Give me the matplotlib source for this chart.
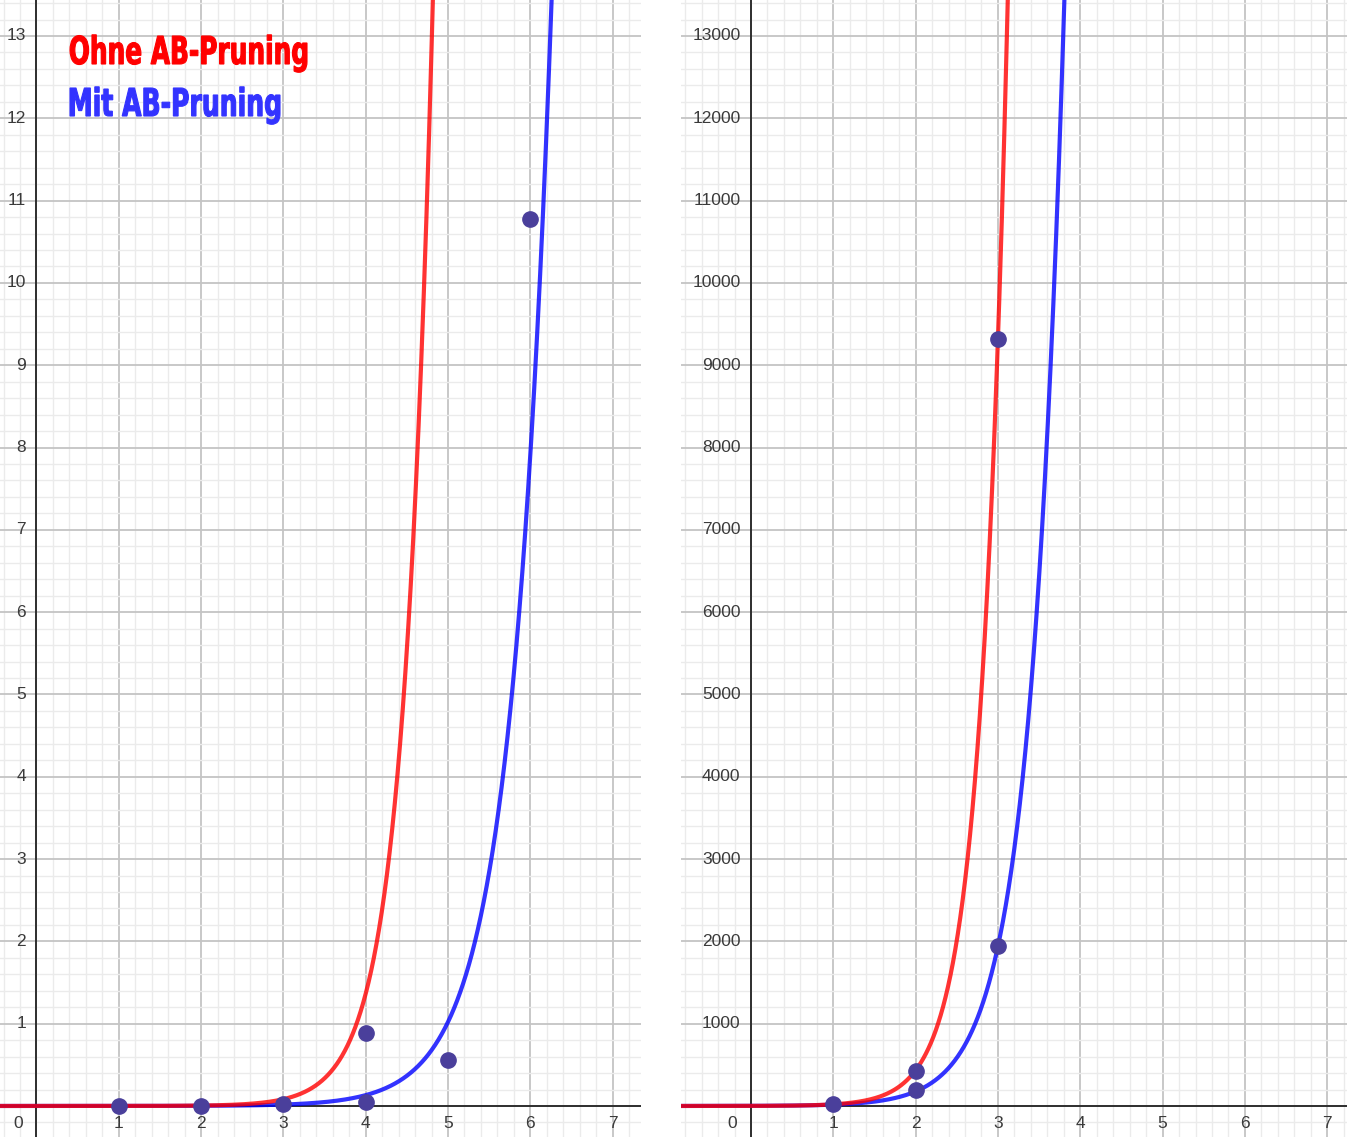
import numpy as np
import matplotlib
matplotlib.use("Agg")
import matplotlib.pyplot as plt
from matplotlib.ticker import MultipleLocator
from matplotlib.textpath import TextPath
from matplotlib.patches import PathPatch
from matplotlib.font_manager import FontProperties
from matplotlib.transforms import Affine2D, IdentityTransform

# ---------------- data ----------------
# left panel (scaled values)
left_pts_x = [1, 2, 3, 4, 4, 5, 6]
left_pts_y = [0.0, 0.0, 0.03, 0.89, 0.05, 0.56, 10.78]
# exponential fits y = a * b**x
left_red_a, left_red_b = 1.84e-5, 16.5
left_blue_a, left_blue_b = 3.65e-5, 7.75

# right panel
right_pts_x = [1, 2, 2, 3, 3]
right_pts_y = [25, 430, 190, 9320, 1940]
right_red_a, right_red_b = 0.938, 21.5
right_blue_a, right_blue_b = 1.458, 11.0

left_xticks = [1, 2, 3, 4, 5, 6, 7]
left_yticks = list(range(1, 14))
right_xticks = [1, 2, 3, 4, 5, 6, 7]
right_yticks = list(range(1000, 14000, 1000))

label_red = "Ohne AB-Pruning"
label_blue = "Mit AB-Pruning"

# ---------------- figure ----------------
W, H = 1347, 1137
fig = plt.figure(figsize=(W / 100, H / 100), dpi=100)
fig.patch.set_facecolor("white")

RED = (1.0, 0.0, 0.0, 0.8)
BLUE = (0.0, 0.0, 1.0, 0.8)
PT = "#4a3f9b"
TXT = "#3a3a3a"
FONT = "Liberation Sans"


def setup(ax, xlim, ylim, xmaj, ymaj, xmin, ymin, xt, yt):
    ax.set_xlim(*xlim)
    ax.set_ylim(*ylim)
    ax.xaxis.set_major_locator(MultipleLocator(xmaj))
    ax.yaxis.set_major_locator(MultipleLocator(ymaj))
    ax.xaxis.set_minor_locator(MultipleLocator(xmin))
    ax.yaxis.set_minor_locator(MultipleLocator(ymin))
    ax.grid(which="major", color="#c4c4c4", linewidth=1.3, zorder=0)
    ax.grid(which="minor", color="#ebebeb", linewidth=1.0, zorder=0)
    ax.tick_params(which="both", length=0, labelbottom=False, labelleft=False)
    for s in ax.spines.values():
        s.set_visible(False)
    ax.set_axisbelow(True)
    ax.axhline(0, color="#222222", linewidth=1.3, zorder=1)
    ax.axvline(0, color="#222222", linewidth=1.3, zorder=1)
    for v in xt:
        ax.annotate(str(v), (v, 0), xytext=(0, -12.5), textcoords="offset points",
                    ha="center", va="center", fontsize=12.5, color=TXT,
                    family=FONT, zorder=2)
    for v in yt:
        ax.annotate(str(v), (0, v), xytext=(-7.5, 0), textcoords="offset points",
                    ha="right", va="center", fontsize=12.5, color=TXT,
                    family=FONT, zorder=2)
    ax.annotate("0", (0, 0), xytext=(-10, -12.5), textcoords="offset points",
                ha="right", va="center", fontsize=12.5, color=TXT,
                family=FONT, zorder=2)


def condensed_label(text, color, x_left, x_right, baseline_top, cap_px):
    """Heavy condensed text drawn as a path in pixel coordinates."""
    fp = FontProperties(family="DejaVu Sans", weight="bold")
    tp = TextPath((0, 0), text, size=1, prop=fp)
    ext = tp.get_extents()
    cap = TextPath((0, 0), "H", size=1, prop=fp).get_extents().height
    sx = (x_right - x_left) / ext.width
    sy = cap_px / cap
    tr = Affine2D().translate(-ext.x0, 0).scale(sx, sy).translate(x_left, H - baseline_top)
    patch = PathPatch(tr.transform_path(tp), facecolor=color, edgecolor=color,
                      linewidth=0.8, transform=IdentityTransform(), zorder=10)
    fig.add_artist(patch)


# left panel
axL = fig.add_axes([0, 0, 641 / W, 1])
setup(axL, (-0.443, 7.345), (-0.377, 13.437), 1, 1, 0.2, 0.2,
      left_xticks, left_yticks)
xs = np.linspace(-0.5, 7.5, 2000)
axL.plot(xs, left_blue_a * left_blue_b ** xs, color=BLUE, lw=3, zorder=3,
         solid_capstyle="butt")
axL.plot(xs, left_red_a * left_red_b ** xs, color=RED, lw=3, zorder=3,
         solid_capstyle="butt")
axL.plot(left_pts_x, left_pts_y, "o", color=PT, ms=11, zorder=4)

# right panel
axR = fig.add_axes([681 / W, 0, 666 / W, 1])
setup(axR, (-0.85, 7.24), (-377, 13437), 1, 1000, 0.2, 200,
      right_xticks, right_yticks)
xs = np.linspace(-1, 7.5, 2000)
axR.plot(xs, right_blue_a * right_blue_b ** xs, color=BLUE, lw=3, zorder=3,
         solid_capstyle="butt")
axR.plot(xs, right_red_a * right_red_b ** xs, color=RED, lw=3, zorder=3,
         solid_capstyle="butt")
axR.plot(right_pts_x, right_pts_y, "o", color=PT, ms=11, zorder=4)

condensed_label(label_red, "#ff0000", 70, 307, 64, 28)
condensed_label(label_blue, "#3333ff", 70, 280, 116, 28)

fig.savefig("out.png", dpi=100, facecolor="white")
